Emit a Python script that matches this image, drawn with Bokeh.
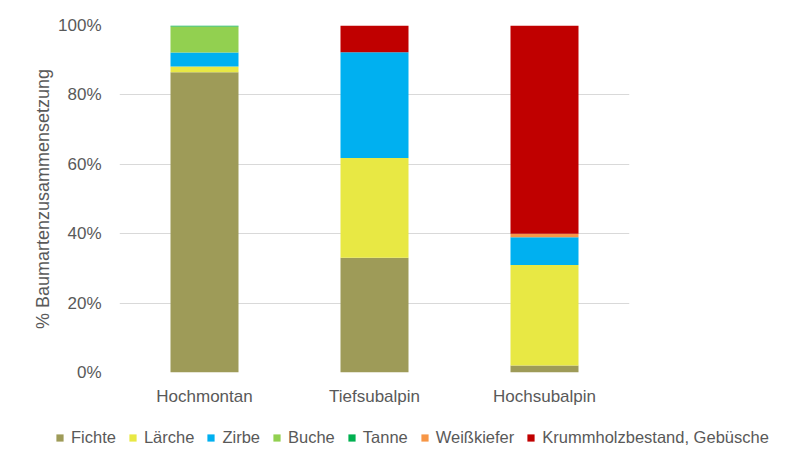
from bokeh.plotting import figure
from bokeh.layouts import column
from bokeh.models import FactorRange, Range1d, Legend, LegendItem, FixedTicker, PrintfTickFormatter, ColumnDataSource
from bokeh.embed import file_html
from bokeh.resources import INLINE

categories = ["Hochmontan", "Tiefsubalpin", "Hochsubalpin"]
species = ["Fichte", "Lärche", "Zirbe", "Buche", "Tanne", "Weißkiefer", "Krummholzbestand, Gebüsche"]
fichte = [86.5, 33.1, 2.0]
laerche = [1.7, 28.7, 29.0]
zirbe = [4.0, 30.5, 8.0]
buche = [7.5, 0.0, 0.0]
tanne = [0.3, 0.0, 0.0]
weisskiefer = [0.0, 0.0, 1.0]
krummholz = [0.0, 7.7, 60.0]
colors = ["#9E9B58", "#E8E844", "#00B0F0", "#92D050", "#00B050", "#F79646", "#C00000"]
yticks = [0, 20, 40, 60, 80, 100]

keys = ["fichte", "laerche", "zirbe", "buche", "tanne", "weisskiefer", "krummholz"]
source = ColumnDataSource(dict(x=categories, fichte=fichte, laerche=laerche, zirbe=zirbe,
                               buche=buche, tanne=tanne, weisskiefer=weisskiefer, krummholz=krummholz))

p = figure(width=792, height=408, x_range=FactorRange(*categories, range_padding=0),
           y_range=Range1d(0, 100), output_backend="svg", toolbar_location=None,
           min_border_left=119, min_border_right=163, min_border_top=25, min_border_bottom=36)
p.outline_line_color = None
p.background_fill_color = "white"
p.border_fill_color = "white"

renderers = p.vbar_stack(keys, x="x", width=0.4, color=colors, line_color=None, source=source)

p.xgrid.grid_line_color = None
p.ygrid.grid_line_color = "#D9D9D9"
p.ygrid.grid_line_width = 1
p.yaxis.ticker = FixedTicker(ticks=yticks)
p.yaxis.formatter = PrintfTickFormatter(format="%d%%")
p.yaxis.axis_label = "% Baumartenzusammensetzung"
for ax in (p.xaxis, p.yaxis):
    ax.axis_line_color = None
    ax.major_tick_line_color = None
    ax.minor_tick_line_color = None
    ax.major_tick_out = 0
    ax.major_label_text_font = "Liberation Sans"
    ax.major_label_text_font_size = "17px"
    ax.major_label_text_color = "#595959"
    ax.axis_label_text_font = "Liberation Sans"
    ax.axis_label_text_font_size = "18px"
    ax.axis_label_text_font_style = "normal"
    ax.axis_label_text_color = "#595959"
p.yaxis.major_label_standoff = 18
p.yaxis.axis_label_standoff = 2
p.xaxis.major_label_standoff = 14

# legend in its own strip below the chart
lf = figure(frame_width=792, frame_height=46, x_range=Range1d(0, 1), y_range=Range1d(0, 1),
            output_backend="svg", toolbar_location=None,
            min_border_left=0, min_border_right=0, min_border_top=0, min_border_bottom=0)
lf.axis.visible = False
lf.grid.visible = False
lf.outline_line_color = None
lf.border_fill_color = "white"
# zero-height swatch renderers; only their legend glyphs show
dummies = [lf.vbar(x=[0.5], top=[0], bottom=[0], width=0.0, color=c, line_color=None) for c in colors]
items = [LegendItem(label=s, renderers=[r]) for s, r in zip(species, dummies)]
legend = Legend(items=items, orientation="horizontal", location=(55, 7),
                glyph_width=9, glyph_height=9, label_standoff=7, spacing=12,
                padding=0, margin=0, border_line_color=None, background_fill_alpha=0,
                label_text_font="Liberation Sans", label_text_font_size="16.5px",
                label_text_color="#595959", label_height=18)
lf.add_layout(legend, "center")

layout = column(p, lf, spacing=0)
open("out.html", "w").write(file_html(layout, INLINE))
